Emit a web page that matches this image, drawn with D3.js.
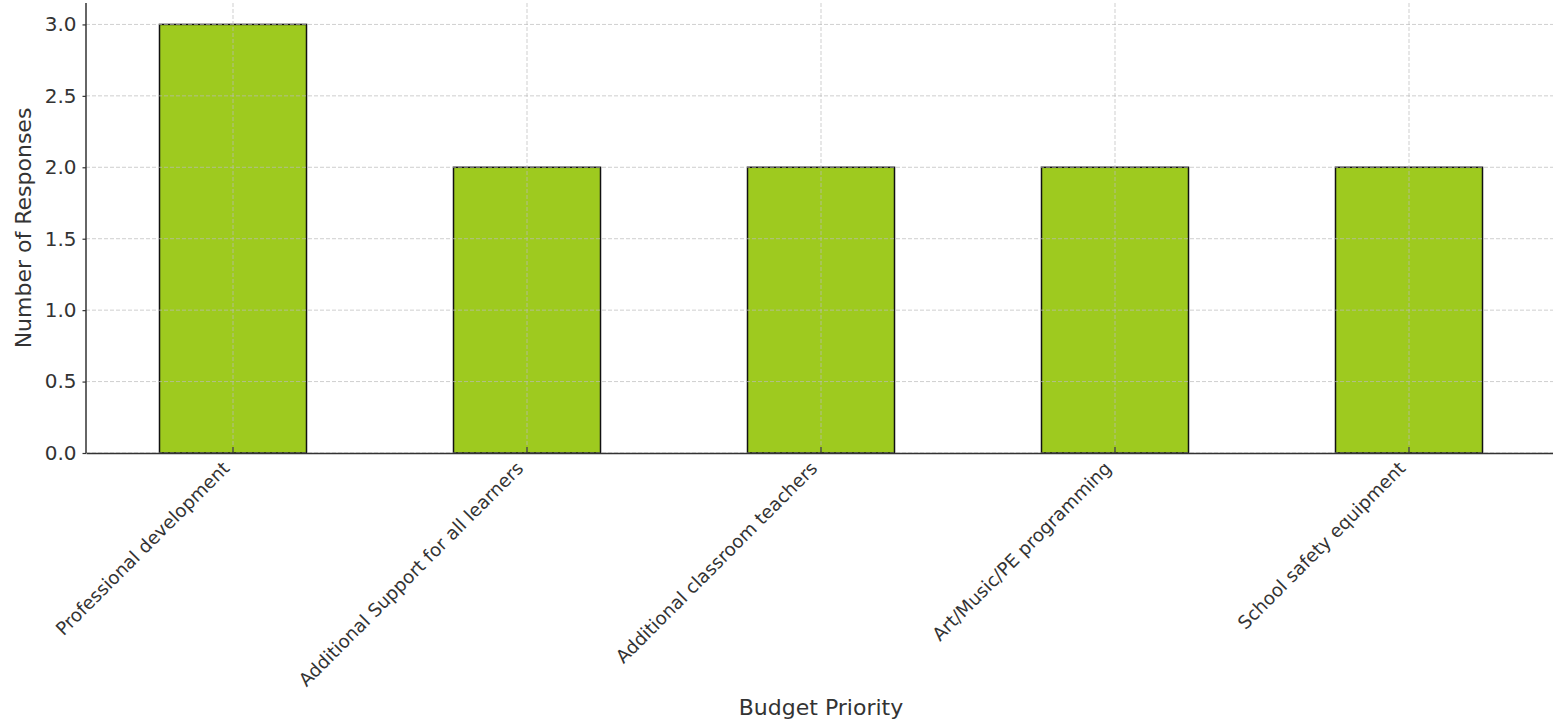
<!DOCTYPE html>
<html><head><meta charset="utf-8">
<script src="https://cdn.jsdelivr.net/npm/d3@7"></script>
<style>body{margin:0;background:#fff}svg{display:block}text{font-family:"DejaVu Sans",sans-serif}</style>
</head><body>
<svg id="c" width="1553" height="722"></svg>
<script>
const categories = ["Professional development","Additional Support for all learners","Additional classroom teachers","Art/Music/PE programming","School safety equipment"];
const values = [3,2,2,2,2];
const yTicks = [0,0.5,1.0,1.5,2.0,2.5,3.0];

const svg = d3.select("#c");
const L=86, R=1556, T=3, B=453;
const x = d3.scaleBand().domain(categories).range([L,R]).paddingInner(0.5).paddingOuter(0.25);
const y = d3.scaleLinear().domain([0,3.15]).range([B,T]);
const col = "#9ECA1F";

// bars
svg.append("g").selectAll("rect").data(values).join("rect")
  .attr("x",(d,i)=>x(categories[i])).attr("y",d=>y(d))
  .attr("width",x.bandwidth()).attr("height",d=>B-y(d))
  .attr("fill",col).attr("stroke","#111").attr("stroke-width",1.5);

// grid
const g = svg.append("g");
g.selectAll("line.h").data(yTicks).join("line")
  .attr("x1",L).attr("x2",R).attr("y1",d=>y(d)).attr("y2",d=>y(d))
  .attr("stroke","#bbb").attr("stroke-opacity",0.7).attr("stroke-dasharray","4,2").attr("stroke-width",1);
g.selectAll("line.v").data(categories).join("line")
  .attr("x1",d=>x(d)+x.bandwidth()/2).attr("x2",d=>x(d)+x.bandwidth()/2).attr("y1",T).attr("y2",B)
  .attr("stroke","#bbb").attr("stroke-opacity",0.7).attr("stroke-dasharray","4,2").attr("stroke-width",1);

// y axis
const ya = svg.append("g").attr("transform",`translate(${L},0)`)
  .call(d3.axisLeft(y).tickValues(yTicks).tickFormat(d3.format(".1f")).tickSize(3.5).tickPadding(6));
ya.select(".domain").attr("stroke","#333").attr("stroke-width",1.5).attr("d",`M0,${T}V${B}`);
ya.selectAll(".tick line").attr("stroke","#333").attr("stroke-width",1.2);
ya.selectAll("text").attr("font-size",20).attr("fill","#333").attr("font-family","DejaVu Sans");

// x axis
const xa = svg.append("g").attr("transform",`translate(0,${B})`)
  .call(d3.axisBottom(x).tickSize(-6).tickSizeOuter(0).tickFormat(""));
xa.select(".domain").attr("stroke","#333").attr("stroke-width",1.5);
xa.selectAll(".tick line").attr("stroke","#333").attr("stroke-width",1.2);
xa.selectAll(".tick").append("text")
  .attr("text-anchor","end").attr("fill","#333").attr("font-size",18.3).attr("font-family","DejaVu Sans")
  .attr("transform","translate(-9,10) rotate(-45)").attr("dy","0.5em")
  .text(d=>d);

// axis titles
svg.append("text").attr("x",(L+R)/2).attr("y",715).attr("text-anchor","middle")
  .attr("font-size",22).attr("fill","#333").text("Budget Priority");
svg.append("text").attr("transform",`translate(31,${(T+B)/2}) rotate(-90)`).attr("text-anchor","middle")
  .attr("font-size",22).attr("fill","#333").text("Number of Responses");
</script>
</body></html>
